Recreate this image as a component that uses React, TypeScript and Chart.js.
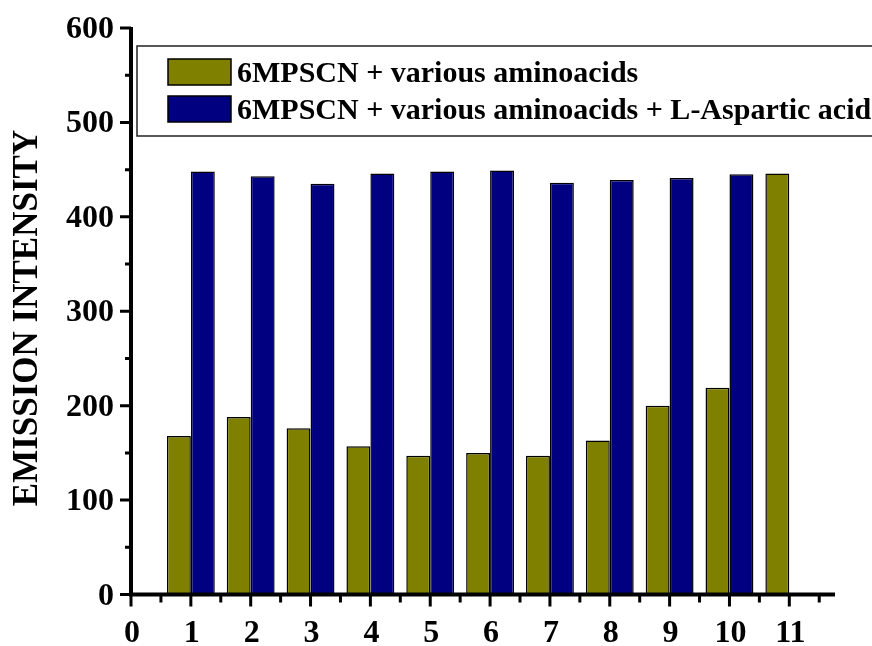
import React, { useEffect, useRef } from "react";
import { Chart, registerables } from "chart.js";

Chart.register(...registerables);

// Sample positions on the x axis
const positions = [1, 2, 3, 4, 5, 6, 7, 8, 9, 10, 11];
// Emission intensity of the probe with each amino acid
const aminoOnly = [168, 188, 176, 157, 147, 150, 147, 163, 200, 219, 446];
// Emission intensity after adding L-Aspartic acid (no value for sample 11)
const withAspartic = [448, 443, 435, 446, 448, 449, 436, 439, 441, 445, null];

const seriesLabels = [
  "6MPSCN + various aminoacids",
  "6MPSCN + various aminoacids + L-Aspartic acid",
];
const seriesColors = ["#808000", "#000080"];

const xTickValues = [0, 1, 2, 3, 4, 5, 6, 7, 8, 9, 10, 11];
const yTickValues = [0, 100, 200, 300, 400, 500, 600];
const yTitle = "EMISSION INTENSITY";

const X_MAX = 11.73;
const SERIF = '"Liberation Serif", "Times New Roman", Times, serif';

const axesAndLegend = {
  id: "axesAndLegend",
  afterDraw(chart: any) {
    const ctx: CanvasRenderingContext2D = chart.ctx;
    const xs = chart.scales.x;
    const ys = chart.scales.y;
    const x0 = xs.getPixelForValue(0);
    const xEnd = xs.getPixelForValue(X_MAX);
    const y0 = ys.getPixelForValue(0);
    const yTop = ys.getPixelForValue(600);

    ctx.save();
    ctx.strokeStyle = "#000";
    ctx.fillStyle = "#000";
    ctx.lineCap = "butt";

    // axis lines
    ctx.lineWidth = 4;
    ctx.beginPath();
    ctx.moveTo(x0, yTop - 1);
    ctx.lineTo(x0, y0 + 2);
    ctx.moveTo(x0 - 2, y0);
    ctx.lineTo(xEnd + 2, y0);
    ctx.stroke();

    // y ticks (major + minor)
    ctx.lineWidth = 3;
    ctx.beginPath();
    yTickValues.forEach((v) => {
      const py = ys.getPixelForValue(v);
      ctx.moveTo(x0 - 11, py);
      ctx.lineTo(x0, py);
      if (v + 50 < 600) {
        const pm = ys.getPixelForValue(v + 50);
        ctx.moveTo(x0 - 6, pm);
        ctx.lineTo(x0, pm);
      }
    });
    // x ticks (major + minor)
    xTickValues.forEach((v) => {
      const px = xs.getPixelForValue(v);
      ctx.moveTo(px, y0);
      ctx.lineTo(px, y0 + 12);
      if (v + 0.5 <= X_MAX) {
        const pm = xs.getPixelForValue(v + 0.5);
        ctx.moveTo(pm, y0);
        ctx.lineTo(pm, y0 + 8);
      }
    });
    ctx.stroke();

    // tick labels
    ctx.font = `bold 32px ${SERIF}`;
    ctx.textBaseline = "alphabetic";
    ctx.textAlign = "right";
    yTickValues.forEach((v) => {
      ctx.fillText(String(v), x0 - 17, ys.getPixelForValue(v) + 10);
    });
    ctx.textAlign = "center";
    xTickValues.forEach((v) => {
      ctx.fillText(String(v), xs.getPixelForValue(v) + 1, y0 + 47);
    });

    // y axis title
    ctx.save();
    ctx.translate(37, 318);
    ctx.rotate(-Math.PI / 2);
    ctx.font = `bold 35px ${SERIF}`;
    ctx.textAlign = "center";
    ctx.fillText(yTitle, 0, 0);
    ctx.restore();

    // legend box (runs off the right edge)
    const datasets = chart.data.datasets;
    ctx.fillStyle = "#fff";
    ctx.fillRect(137, 46, 745, 90);
    ctx.strokeStyle = "#222";
    ctx.lineWidth = 1.5;
    ctx.strokeRect(137, 46, 745, 90);
    ctx.font = `bold 30px ${SERIF}`;
    ctx.textAlign = "left";
    datasets.forEach((ds: any, i: number) => {
      const top = 59 + i * 37;
      ctx.fillStyle = ds.backgroundColor;
      ctx.fillRect(168, top, 63, 26);
      ctx.strokeStyle = "#000";
      ctx.lineWidth = 1.5;
      ctx.strokeRect(168, top, 63, 26);
      ctx.fillStyle = "#000";
      ctx.fillText(ds.label, 237, top + 23);
    });
    ctx.restore();
  },
};

export default function App() {
  const canvasRef = useRef<HTMLCanvasElement | null>(null);

  useEffect(() => {
    const canvas = canvasRef.current;
    if (!canvas) return;
    const chart = new Chart(canvas, {
      type: "bar",
      data: {
        datasets: [
          {
            label: seriesLabels[0],
            data: positions.map((x, i) => ({ x, y: aminoOnly[i] })),
            backgroundColor: seriesColors[0],
            borderColor: "#000",
            borderWidth: 1.5,
          },
          {
            label: seriesLabels[1],
            data: positions.map((x, i) => ({ x, y: withAspartic[i] })),
            backgroundColor: seriesColors[1],
            borderColor: "#000",
            borderWidth: 1.5,
          },
        ] as any,
      },
      options: {
        animation: false,
        responsive: false,
        events: [],
        layout: { padding: { left: 131, right: 39, top: 28, bottom: 51.5 } },
        datasets: { bar: { categoryPercentage: 0.8, barPercentage: 1 } },
        plugins: { legend: { display: false }, tooltip: { enabled: false } },
        scales: {
          x: {
            type: "linear",
            min: 0,
            max: X_MAX,
            offset: false,
            display: false,
            ticks: { stepSize: 1, includeBounds: false },
          },
          y: {
            type: "linear",
            min: 0,
            max: 600,
            display: false,
          },
        },
      } as any,
      plugins: [axesAndLegend],
    });
    return () => chart.destroy();
  }, []);

  return (
    <div style={{ position: "absolute", left: 0, top: 0, width: 872, height: 646, background: "#fff" }}>
      <canvas ref={canvasRef} width={872} height={646} />
    </div>
  );
}
